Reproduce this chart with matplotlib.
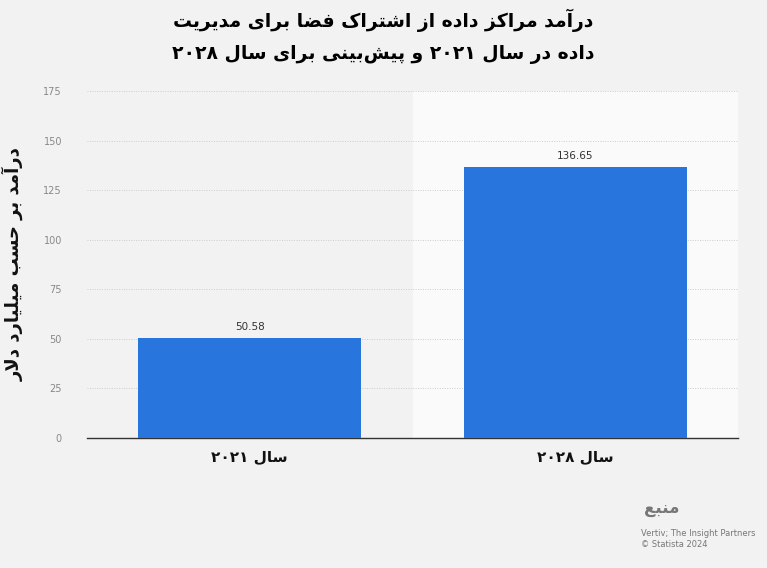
import re
import matplotlib
matplotlib.use("Agg")
import matplotlib.pyplot as plt

categories = ["سال ۲۰۲۱", "سال ۲۰۲۸"]
values = [50.58, 136.65]
yticks = [0, 25, 50, 75, 100, 125, 150, 175]
title_lines = ["درآمد مراکز داده از اشتراک فضا برای مدیریت",
               "داده در سال ۲۰۲۱ و پیش‌بینی برای سال ۲۰۲۸"]
ylabel = "درآمد بر حسب میلیارد دلار"
source_title = "منبع"
source_text = "Vertiv; The Insight Partners\n© Statista 2024"

FORMS = {
    'ا': (0xFE8D, 0xFE8E, None, None), 'آ': (0xFE81, 0xFE82, None, None),
    'ب': (0xFE8F, 0xFE90, 0xFE91, 0xFE92), 'پ': (0xFB56, 0xFB57, 0xFB58, 0xFB59),
    'ت': (0xFE95, 0xFE96, 0xFE97, 0xFE98), 'ح': (0xFEA1, 0xFEA2, 0xFEA3, 0xFEA4),
    'د': (0xFEA9, 0xFEAA, None, None), 'ر': (0xFEAD, 0xFEAE, None, None),
    'ز': (0xFEAF, 0xFEB0, None, None), 'س': (0xFEB1, 0xFEB2, 0xFEB3, 0xFEB4),
    'ش': (0xFEB5, 0xFEB6, 0xFEB7, 0xFEB8), 'ض': (0xFEBD, 0xFEBE, 0xFEBF, 0xFEC0),
    'ع': (0xFEC9, 0xFECA, 0xFECB, 0xFECC), 'ف': (0xFED1, 0xFED2, 0xFED3, 0xFED4),
    'ک': (0xFB8E, 0xFB8F, 0xFB90, 0xFB91), 'ل': (0xFEDD, 0xFEDE, 0xFEDF, 0xFEE0),
    'م': (0xFEE1, 0xFEE2, 0xFEE3, 0xFEE4), 'ن': (0xFEE5, 0xFEE6, 0xFEE7, 0xFEE8),
    'ه': (0xFEE9, 0xFEEA, 0xFEEB, 0xFEEC), 'و': (0xFEED, 0xFEEE, None, None),
    'ی': (0xFBFC, 0xFBFD, 0xFBFE, 0xFBFF),
}

def shape(s):
    chars = list(s)
    out = []
    i = 0
    tokens = []
    while i < len(chars):
        if chars[i] == 'ل' and i + 1 < len(chars) and chars[i+1] == 'ا':
            tokens.append('LA'); i += 2
        else:
            tokens.append(chars[i]); i += 1
    def joins_left(t):
        if t == 'LA': return False
        f = FORMS.get(t)
        return f is not None and f[2] is not None
    def is_letter(t):
        return t == 'LA' or t in FORMS
    for k, t in enumerate(tokens):
        prev = tokens[k-1] if k > 0 else None
        nxt = tokens[k+1] if k + 1 < len(tokens) else None
        jp = prev is not None and joins_left(prev)
        if t == 'LA':
            out.append(chr(0xFEFC if jp else 0xFEFB)); continue
        if t not in FORMS:
            if t != '\u200c':
                out.append(t)
            continue
        f = FORMS[t]
        jn = nxt is not None and is_letter(nxt) and f[2] is not None
        if jp and jn: c = f[3]
        elif jp: c = f[1]
        elif jn: c = f[2]
        else: c = f[0]
        out.append(chr(c))
    r = ''.join(out)[::-1]
    r = re.sub(r'[۰-۹0-9.]+', lambda m: m.group(0)[::-1], r)
    return r

plt.rcParams['font.family'] = 'DejaVu Sans'
fig = plt.figure(figsize=(7.67, 5.68), dpi=100, facecolor='#f2f2f2')
ax = fig.add_axes([87/767, 1-438/568, 651/767, (438-91)/568])
ax.set_facecolor('#f2f2f2')
ax.axvspan(0.5, 1.5, color='#fafafa', zorder=0)

x = list(range(len(categories)))
ax.bar(x, values, width=0.685, color='#2876dd', zorder=3)
for xi, v in zip(x, values):
    ax.text(xi, v + 3, f"{v:.2f}", ha='center', va='bottom', fontsize=7.5, color='#333333', zorder=4)

ax.set_xlim(-0.5, 1.5)
ax.set_ylim(0, 175)
ax.set_yticks(yticks)
ax.set_yticklabels([str(t) for t in yticks], fontsize=7, color='#888888')
ax.set_xticks(x)
ax.set_xticklabels([shape(c) for c in categories], fontsize=11, fontweight='bold', color='#111111')
ax.tick_params(axis='y', length=0, pad=18)
ax.tick_params(axis='x', length=0, pad=8)
ax.grid(axis='y', linestyle=(0, (1, 1.5)), color='#cccccc', linewidth=0.7, zorder=1)
for s in ['top', 'right', 'left']:
    ax.spines[s].set_visible(False)
ax.spines['bottom'].set_color('#333333')
ax.spines['bottom'].set_linewidth(1)
ax.set_ylabel(shape(ylabel), fontsize=13, fontweight='bold', color='#111111', labelpad=14)

fig.text(0.5, 1-20/568, shape(title_lines[0]), ha='center', va='center', fontsize=13.5, fontweight='bold')
fig.text(0.5, 1-55/568, shape(title_lines[1]), ha='center', va='center', fontsize=13.5, fontweight='bold')

fig.text(662/767, 1-508/568, shape(source_title), ha='center', va='center', fontsize=12, fontweight='bold', color='#777777')
fig.text(641/767, 1-539/568, source_text, ha='left', va='center', fontsize=6, color='#777777', linespacing=1.3)

fig.savefig('out.png', dpi=100, facecolor=fig.get_facecolor())
